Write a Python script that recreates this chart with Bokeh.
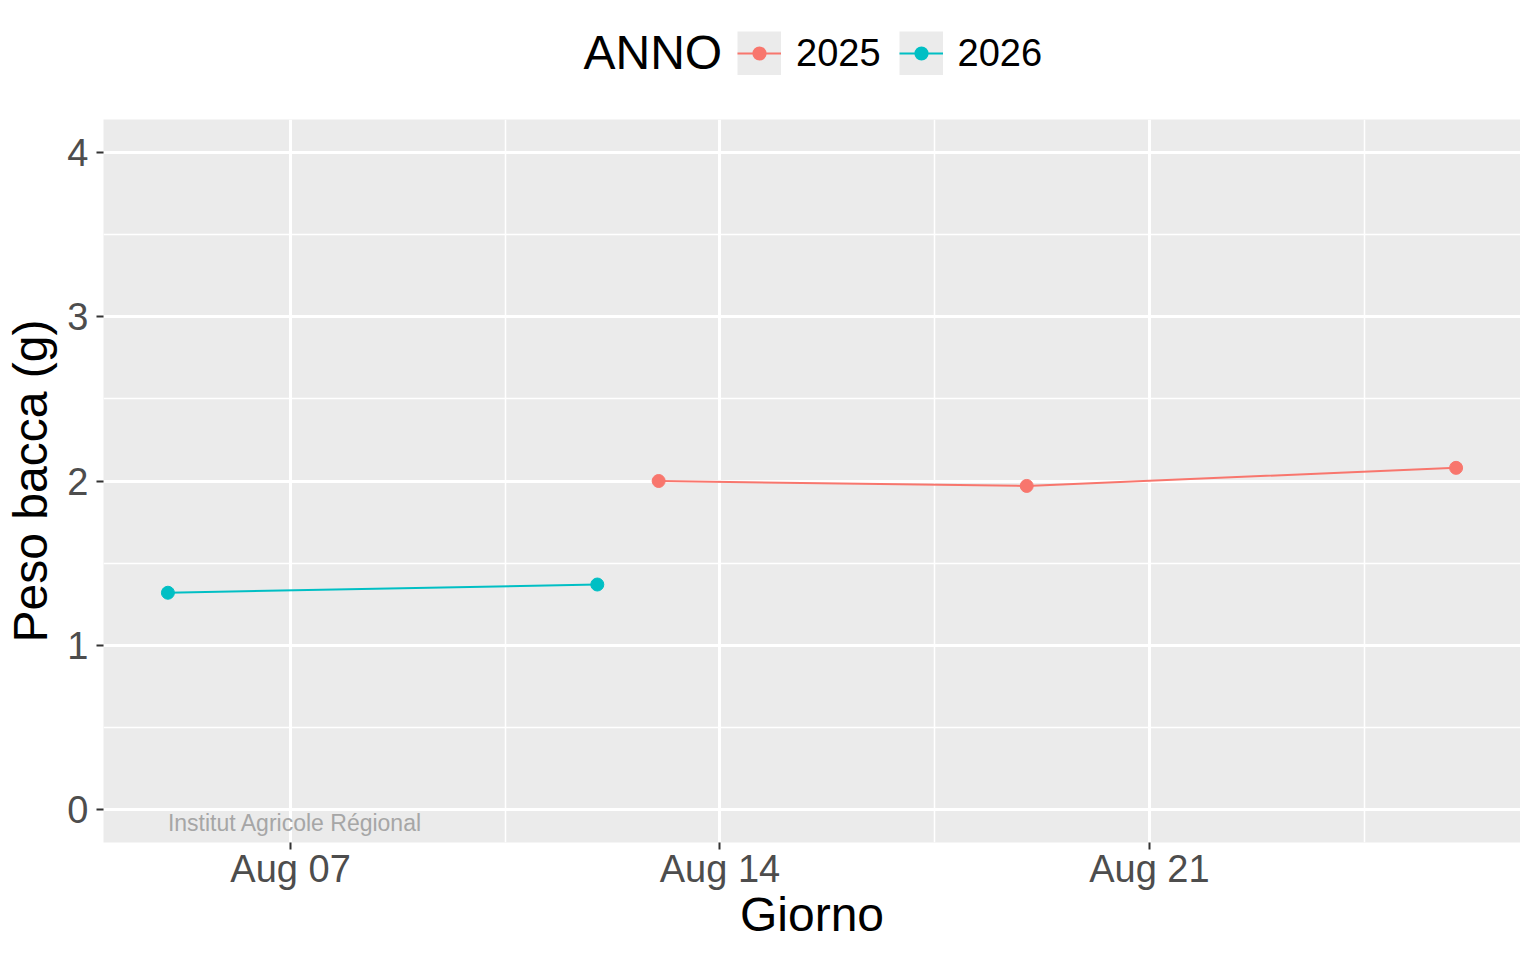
import pandas as pd
from bokeh.plotting import figure
from bokeh.layouts import column
from bokeh.models import (ColumnDataSource, Range1d, FixedTicker,
                          DatetimeTickFormatter, Legend, LegendItem, Label)
from bokeh.core.properties import value
from bokeh.embed import file_html
from bokeh.resources import INLINE

# ---------------- data ----------------
anni = ["2025", "2026"]
giorni_2025 = ["2025-08-13", "2025-08-19", "2025-08-26"]
peso_2025 = [2.00, 1.97, 2.08]
giorni_2026 = ["2026-08-05", "2026-08-12"]
peso_2026 = [1.32, 1.37]
colori = ["#F8766D", "#00BFC4"]
tick_giorni = ["08-07", "08-14", "08-21"]   # labelled "Aug 07", "Aug 14", "Aug 21"
y_ticks = [0, 1, 2, 3, 4]
y_minor = [0.5, 1.5, 2.5, 3.5]
y_limits = [0, 4]
legend_title = "ANNO"
watermark = "Institut Agricole Régional"

REF_YEAR = 2025
DAY = 86400000.0


def to_ms(s):
    t = pd.Timestamp(s).replace(year=REF_YEAR)
    return t.timestamp() * 1000.0


def md_ms(md):
    return pd.Timestamp(f"{REF_YEAR}-{md}").timestamp() * 1000.0


x25 = [to_ms(d) for d in giorni_2025]
x26 = [to_ms(d) for d in giorni_2026]
allx = x25 + x26
xmin, xmax = min(allx), max(allx)
xpad = 0.05 * (xmax - xmin)
ypad = 0.05 * (y_limits[1] - y_limits[0])

major_x = [md_ms(m) for m in tick_giorni]
minor_x = [v + 3.5 * DAY for v in major_x]

FONT = "Liberation Sans"
W = 1520
TOP_H = 119
MAIN_H = 825
PANEL_BG = "#EBEBEB"

# ---------------- main plot ----------------
p = figure(width=W, height=MAIN_H, x_axis_type="datetime",
           output_backend="svg", toolbar_location=None,
           x_range=Range1d(xmin - xpad, xmax + xpad),
           y_range=Range1d(y_limits[0] - ypad, y_limits[1] + ypad),
           min_border_left=103, min_border_right=0,
           min_border_top=0, min_border_bottom=102)

p.background_fill_color = PANEL_BG
p.border_fill_color = "white"
p.outline_line_color = None

p.xaxis.ticker = FixedTicker(ticks=major_x, minor_ticks=minor_x)
p.yaxis.ticker = FixedTicker(ticks=y_ticks, minor_ticks=y_minor)
fmt = "%b %d"
p.xaxis.formatter = DatetimeTickFormatter(
    milliseconds=fmt, seconds=fmt, minsec=fmt, minutes=fmt, hourmin=fmt,
    hours=fmt, days=fmt, months=fmt, years=fmt)

for ax in (p.xaxis, p.yaxis):
    ax.axis_line_color = None
    ax.major_tick_line_color = "#333333"
    ax.major_tick_line_width = 2
    ax.major_tick_out = 7
    ax.major_tick_in = 0
    ax.minor_tick_line_color = None
    ax.major_label_text_font = FONT
    ax.major_label_text_font_size = "38px"
    ax.major_label_text_color = "#4D4D4D"
    ax.axis_label_text_font = FONT
    ax.axis_label_text_font_size = "48px"
    ax.axis_label_text_font_style = "normal"
    ax.axis_label_text_color = "black"

p.xaxis.axis_label = "Giorno"
p.yaxis.axis_label = "Peso bacca (g)"
p.xaxis.major_label_standoff = -2
p.xaxis.axis_label_standoff = -5
p.yaxis.major_label_standoff = 8
p.yaxis.axis_label_standoff = 7

for g in (p.xgrid, p.ygrid):
    g.grid_line_color = "white"
    g.grid_line_width = 3
    g.minor_grid_line_color = "white"
    g.minor_grid_line_width = 1.5

# watermark
p.text(x=[xmin], y=[y_limits[0]], text=[watermark],
       text_font=value(FONT), text_font_size="23px", text_color="#A6A6A6",
       text_align="left", text_baseline="top")

series = [(x25, peso_2025), (x26, peso_2026)]
for col, (xs, ys) in zip(colori, series):
    src = ColumnDataSource(dict(x=xs, y=ys))
    p.line("x", "y", source=src, line_color=col, line_width=2)
    p.scatter("x", "y", source=src, color=col, size=13)

# ---------------- legend strip (top) ----------------
top = figure(width=W, height=TOP_H, output_backend="svg", toolbar_location=None,
             x_range=Range1d(0, 1), y_range=Range1d(0, 1),
             x_axis_location=None, y_axis_location=None, min_border=0)
top.grid.visible = False
top.outline_line_color = None
top.background_fill_color = "white"
top.border_fill_color = "white"

nan = float("nan")
items = []
for anno, col in zip(anni, colori):
    # legend-key helpers (NaN data: nothing is drawn in the strip itself)
    bg = top.line(x=[nan], y=[nan], line_color=PANEL_BG, line_width=44, line_cap="butt")
    pt = top.scatter(x=[nan], y=[nan], fill_color=col, line_color=PANEL_BG,
                     line_width=3.4, size=13)
    ln = top.line(x=[nan], y=[nan], line_color=col, line_width=2)
    items.append(LegendItem(label=anno, renderers=[bg, pt, ln]))

legend = Legend(items=items, orientation="horizontal", location=(634, 44))
legend.label_text_font = FONT
legend.label_text_font_size = "38px"
legend.label_text_color = "black"
legend.label_standoff = 15
legend.label_height = 44
legend.glyph_width = 44
legend.glyph_height = 44
legend.spacing = 18
legend.padding = 0
legend.margin = 0
legend.border_line_color = None
legend.background_fill_alpha = 0
top.add_layout(legend)

top.add_layout(Label(x=480, y=67, x_units="screen", y_units="screen",
                     text=legend_title, text_font=FONT, text_font_size="48px",
                     text_color="black", text_align="left",
                     text_baseline="alphabetic"))

layout = column(top, p, spacing=0)
open("out.html", "w").write(file_html(layout, INLINE))
